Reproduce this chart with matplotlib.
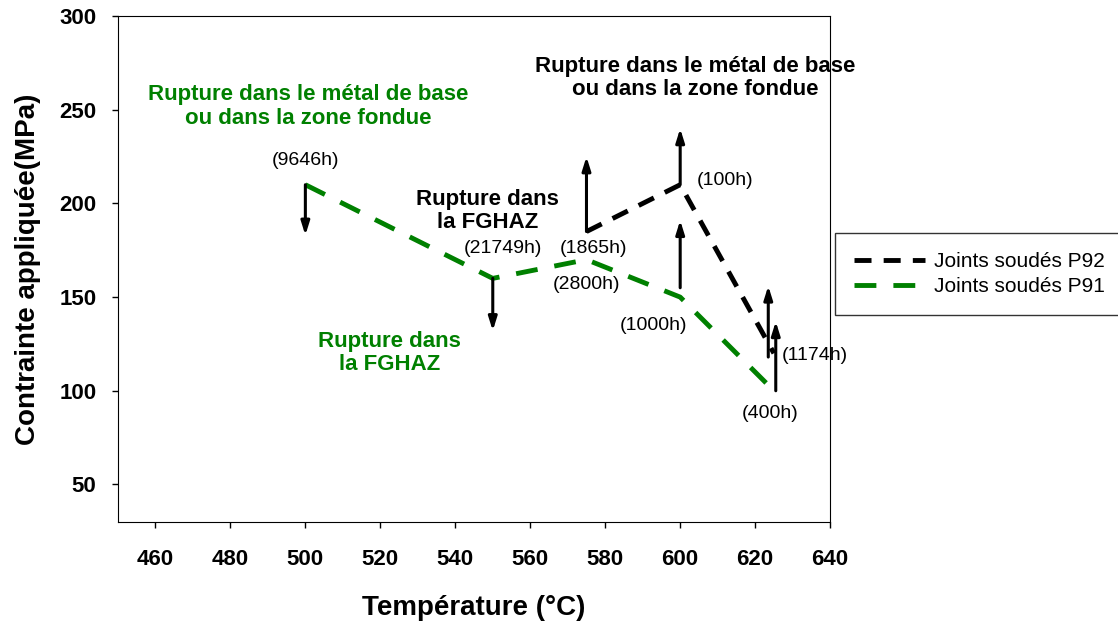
import matplotlib
matplotlib.use("Agg")
import matplotlib.pyplot as plt

plt.rcParams['font.family'] = ['Liberation Sans', 'DejaVu Sans']

# data
p92_temp = [575, 600, 625]
p92_stress = [185, 210, 120]

p91_temp = [500, 550, 575, 600, 625]
p91_stress = [210, 160, 170, 150, 100]

# arrows (x, start, end)
arrow_x = [500, 550, 575, 600, 600, 623.5, 625.5]
arrow_from = [210, 160, 185, 210, 155, 118, 100]
arrow_to = [183, 132, 225, 240, 191, 156, 137]

# rupture times
hours_text = ['(9646h)', '(21749h)', '(1865h)', '(2800h)', '(100h)',
              '(1000h)', '(1174h)', '(400h)']
hours_x = [500, 552.7, 577, 575, 612, 593, 636, 624]
hours_y = [223, 176, 176, 156.6, 212, 135, 119, 88]

notes_text = ['Rupture dans le métal de base\nou dans la zone fondue',
              'Rupture dans\nla FGHAZ',
              'Rupture dans\nla FGHAZ',
              'Rupture dans le métal de base\nou dans la zone fondue']
notes_x = [500.7, 548.5, 522.5, 604]
notes_y = [251.8, 196, 120, 267]
notes_color = ['green', 'black', 'green', 'black']

green = '#008000'

fig = plt.figure(figsize=(11.18, 6.22), dpi=100)
ax = fig.add_axes([0.1055, 0.161, 0.637, 0.813])

ax.plot(p92_temp, p92_stress, color='black', lw=3.5,
        linestyle=(0, (3.5, 2.5)), label='Joints soudés P92')
ax.plot(p91_temp, p91_stress, color=green, lw=3.5,
        linestyle=(0, (4.5, 3.5)), label='Joints soudés P91')

for x, y0, y1 in zip(arrow_x, arrow_from, arrow_to):
    ax.annotate('', xy=(x, y1), xytext=(x, y0),
                arrowprops=dict(arrowstyle='-|>,head_length=0.8,head_width=0.25',
                                color='black', lw=2.2, shrinkA=0, shrinkB=0))

for t, x, y in zip(hours_text, hours_x, hours_y):
    ax.text(x, y, t, fontsize=14, ha='center', va='center')

for t, x, y, c in zip(notes_text, notes_x, notes_y, notes_color):
    ax.text(x, y, t, fontsize=16, fontweight='bold', ha='center', va='center',
            color=green if c == 'green' else 'black', linespacing=1.15)

ax.set_xlim(450, 640)
ax.set_ylim(30, 300)
ax.set_xticks(range(460, 641, 20))
ax.set_yticks(range(50, 301, 50))
ax.tick_params(direction='out', length=4.5, width=1, labelsize=16, pad=11)
ax.tick_params(axis='x', pad=15)
for lab in ax.get_xticklabels() + ax.get_yticklabels():
    lab.set_fontweight('bold')

ax.set_xlabel('Température (°C)', fontsize=20, fontweight='bold', labelpad=18)
ax.set_ylabel('Contrainte appliquée(MPa)', fontsize=20, fontweight='bold', labelpad=13)

leg = fig.legend(loc='upper left', bbox_to_anchor=(0.747, 0.625), fontsize=15,
                 frameon=True, fancybox=False, edgecolor='black',
                 handlelength=3.4, handletextpad=0.45, borderpad=0.9,
                 labelspacing=0.3, borderaxespad=0)
leg.get_frame().set_linewidth(1)

fig.savefig('out.png', dpi=100)
